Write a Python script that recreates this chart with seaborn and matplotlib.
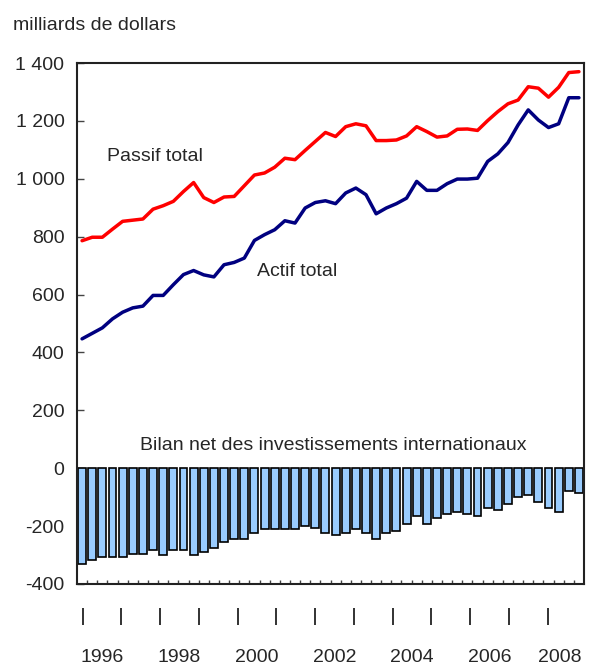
import matplotlib
matplotlib.use("Agg")
import matplotlib.pyplot as plt
import numpy as np
import pandas as pd
import seaborn as sns

# Quarterly data, 1996 T1 to 2008 T2 (milliards de dollars)
quarters = [f"{y} T{q}" for y in range(1996, 2009) for q in range(1, 5)][:50]

passif_total = [786, 798, 798, 826, 853, 857, 861, 895, 907, 922,
                956, 987, 935, 918, 937, 939, 976, 1013, 1020, 1040,
                1071, 1066, 1098, 1129, 1160, 1146, 1180, 1190, 1183, 1132,
                1132, 1134, 1148, 1180, 1163, 1144, 1148, 1171, 1172, 1167,
                1201, 1232, 1259, 1272, 1318, 1313, 1282, 1316, 1367, 1370]

actif_total = [447, 466, 485, 516, 539, 554, 560, 597, 597, 634,
               669, 683, 668, 661, 703, 711, 726, 787, 807, 824,
               855, 847, 899, 918, 924, 914, 951, 968, 945, 879,
               899, 914, 933, 991, 960, 960, 983, 999, 999, 1002,
               1060, 1086, 1125, 1186, 1238, 1203, 1177, 1190, 1280, 1280]

bilan_net = [-331, -317, -305, -305, -305, -297, -297, -283, -299, -283,
             -283, -299, -291, -277, -256, -245, -245, -224, -211, -211,
             -211, -211, -199, -205, -224, -231, -224, -210, -224, -245,
             -224, -216, -191, -164, -191, -172, -159, -151, -159, -164,
             -139, -145, -124, -99, -91, -116, -138, -151, -78, -84]

year_ticks = list(range(1996, 2009))
year_labels = ["1996", "1998", "2000", "2002", "2004", "2006", "2008"]
year_label_pos = [1996.5, 1998.5, 2000.5, 2002.5, 2004.5, 2006.5, 2008.32]

df = pd.DataFrame({
    "trimestre": quarters,
    "t": np.arange(len(quarters)),
    "passif": passif_total,
    "actif": actif_total,
    "net": bilan_net,
})

sns.set_style("white")
plt.rcParams["font.family"] = ["Liberation Sans", "DejaVu Sans"]
fs = 14

fig = plt.figure(figsize=(6.05, 6.67), dpi=100)
ax = fig.add_axes([77 / 605, 83 / 667, 507 / 605, 521 / 667])

sns.barplot(data=df, x="trimestre", y="net", color="#99CCFF", saturation=1,
            width=0.78, edgecolor="black", linewidth=1.2, ax=ax)
sns.lineplot(data=df, x="t", y="passif", color="#FF0000", linewidth=2.5, ax=ax)
sns.lineplot(data=df, x="t", y="actif", color="#000080", linewidth=2.5, ax=ax)

ax.set_xlim(-0.5, len(quarters) - 0.5)
ax.set_ylim(-400, 1400)
ax.set_xlabel("")
ax.set_ylabel("")

yt = list(range(-400, 1401, 200))
ax.set_yticks(yt)
ax.set_yticklabels([f"{v:,}".replace(",", " ") for v in yt], fontsize=fs)
ax.set_xticks(np.arange(0.5, len(quarters) - 1, 1))
ax.tick_params(axis="x", bottom=True, direction="in", length=3, width=1,
               color="#444444", labelbottom=False)
ax.tick_params(axis="y", left=True, direction="in", length=5, width=1,
               color="#444444", pad=9)
for s in ax.spines.values():
    s.set_visible(True)
    s.set_color("#222222")
    s.set_linewidth(1.5)

ax.text(2.5, 1076, "Passif total", fontsize=fs, ha="left", va="center")
ax.text(17.3, 679, "Actif total", fontsize=fs, ha="left", va="center")
ax.text(24.75, 78, "Bilan net des investissements internationaux",
        fontsize=fs, ha="center", va="center")

fig.text(13 / 605, 1 - 25 / 667, "milliards de dollars", fontsize=fs,
         ha="left", va="center")

# year markers below the chart
yax = fig.add_axes([82.7 / 605, 42 / 667, 38.75 * 12.6 / 605, 17 / 667])
yax.set_xlim(1996, 2008.6)
yax.patch.set_visible(False)
for s in yax.spines.values():
    s.set_visible(False)
yax.set_yticks([])
yax.set_xticks(year_ticks)
yax.set_xticklabels([])
yax.set_xticks(year_label_pos, minor=True)
yax.set_xticklabels(year_labels, minor=True, fontsize=fs)
yax.tick_params(axis="x", which="major", bottom=True, direction="in",
                length=12.2, width=1.3, color="#222222")
yax.tick_params(axis="x", which="minor", bottom=True, length=0, pad=17)

fig.savefig("out.png", dpi=100)
